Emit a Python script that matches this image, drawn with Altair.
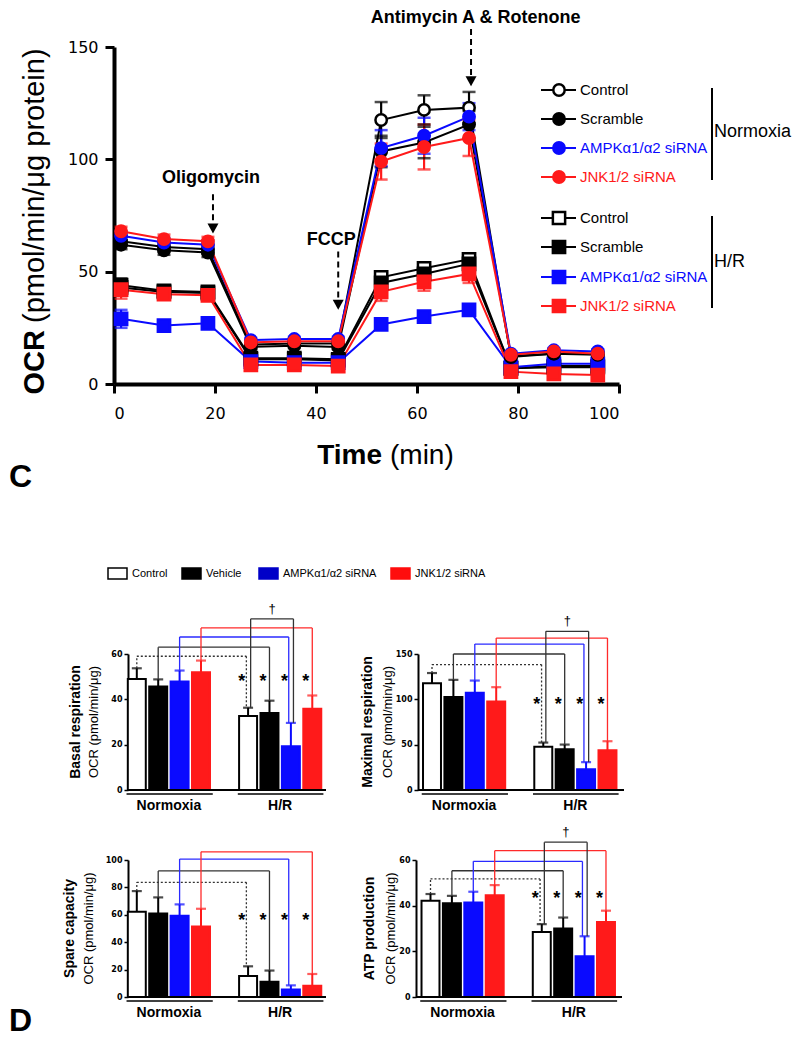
import altair as alt
import pandas as pd

FONT = "Liberation Sans"
NUMFONT = "DejaVu Sans"
BLUE = "#0a0aff"
RED = "#ff1a1a"
BAR_BLUE = "#0000c8"
BAR_RED = "#ff0d0d"
DARK = "#333333"

# ---------------- Panel C : OCR time course ----------------
TIME = [1.4, 9.9, 18.6, 27.1, 35.7, 44.4, 52.9, 61.4, 70.3, 78.6, 87.1, 95.8]

SERIES = ["H/R Control", "H/R Scramble", "H/R AMPK", "H/R JNK",
          "Normoxia Control", "Normoxia Scramble", "Normoxia AMPK", "Normoxia JNK"]
LEG_LABELS = ["Control", "Scramble", "AMPKα1/α2 siRNA", "JNK1/2 siRNA"]

HR_CONTROL = [44.0, 41.5, 41.0, 11.5, 11.5, 11.0, 47.5, 51.5, 55.5, 7.0, 8.0, 8.0]
HR_SCRAMBLE = [43.0, 41.0, 40.5, 11.0, 11.0, 10.5, 45.0, 49.0, 53.5, 7.0, 7.5, 7.5]
HR_AMPK = [29.0, 26.0, 27.0, 10.0, 9.5, 9.5, 26.5, 30.0, 33.0, 7.5, 9.0, 9.0]
HR_JNK = [42.0, 40.0, 39.5, 8.5, 8.5, 8.0, 41.0, 45.5, 49.0, 5.5, 4.5, 4.0]
N_CONTROL = [63.5, 61.0, 60.0, 17.5, 18.0, 18.0, 117.5, 122.0, 123.0, 12.0, 13.5, 13.0]
N_SCRAMBLE = [62.0, 59.5, 58.5, 16.5, 17.0, 16.5, 103.5, 107.5, 115.5, 12.5, 13.5, 13.5]
N_AMPK = [66.0, 63.0, 62.0, 19.5, 20.0, 20.0, 105.0, 110.5, 119.0, 13.5, 15.0, 14.5]
N_JNK = [68.0, 64.5, 63.5, 18.5, 19.0, 19.0, 99.0, 105.5, 109.5, 13.0, 14.5, 13.5]

HR_CONTROL_SEM = [3, 2, 2, 1, 1, 1, 2, 2, 2, 1, 1, 1]
HR_SCRAMBLE_SEM = [3, 2, 2, 1, 1, 1, 3, 3, 3, 1, 1, 1]
HR_AMPK_SEM = [4, 2, 2, 1, 1, 1, 2, 2, 2, 1, 1, 1]
HR_JNK_SEM = [4, 2, 2, 1, 1, 1, 4, 4, 4, 1, 1, 1]
N_CONTROL_SEM = [2, 2, 2, 1, 1, 1, 8, 6.5, 7, 1, 1, 1]
N_SCRAMBLE_SEM = [2, 2, 2, 1, 1, 1, 7, 7, 6, 1, 1, 1]
N_AMPK_SEM = [2, 2, 2, 1, 1, 1, 8, 8, 6, 1, 1, 1]
N_JNK_SEM = [2, 2, 2, 1, 1, 1, 8, 10, 8, 1, 1, 1]

SERIES_VALUES = [HR_CONTROL, HR_SCRAMBLE, HR_AMPK, HR_JNK, N_CONTROL, N_SCRAMBLE, N_AMPK, N_JNK]
SERIES_SEM = [HR_CONTROL_SEM, HR_SCRAMBLE_SEM, HR_AMPK_SEM, HR_JNK_SEM,
              N_CONTROL_SEM, N_SCRAMBLE_SEM, N_AMPK_SEM, N_JNK_SEM]

ARROW_LABELS = ["Oligomycin", "FCCP", "Antimycin A & Rotenone"]
ARROW_T = [19.6, 44.4, 70.7]
ARROW_FROM = [84.5, 59.0, 158.0]
ARROW_TIP = [67.0, 33.0, 132.5]
LABEL_T = [19.2, 43.0, 71.6]
LABEL_V = [91.5, 64.0, 163.0]

# ---------------- Panel D : bar charts ----------------
CONDS = ["Control", "Vehicle", "AMPKα1/α2 siRNA", "JNK1/2 siRNA"]
GROUPS = ["Normoxia", "H/R"]

BASAL_N = [49.0, 45.7, 47.9, 52.0]
BASAL_N_SEM = [4.7, 3.1, 4.8, 5.1]
BASAL_H = [32.6, 34.0, 19.3, 35.9]
BASAL_H_SEM = [3.7, 5.4, 10.3, 5.8]
BASAL_LEVELS = [59.0, 63.0, 67.5, 71.5]
BASAL_DAGGER = [75.5, 80.0]
BASAL_STAR = 50.0

MAX_N = [117.8, 102.5, 107.2, 97.7]
MAX_N_SEM = [11.2, 19.0, 13.5, 15.7]
MAX_H = [47.6, 45.0, 23.0, 43.9]
MAX_H_SEM = [4.7, 5.1, 7.7, 9.9]
MAX_LEVELS = [138.3, 150.0, 161.0, 167.6]
MAX_DAGGER = [175.0, 186.6]
MAX_STAR = 99.5

SPARE_N = [62.2, 61.0, 59.3, 51.5]
SPARE_N_SEM = [15.1, 11.7, 8.3, 12.9]
SPARE_H = [15.4, 11.2, 5.4, 8.3]
SPARE_H_SEM = [7.0, 8.1, 3.1, 8.5]
SPARE_LEVELS = [83.7, 92.0, 100.7, 106.0]
SPARE_DAGGER = []
SPARE_STAR = 59.0

ATP_N = [42.1, 41.1, 41.4, 44.6]
ATP_N_SEM = [3.0, 3.2, 4.7, 4.4]
ATP_H = [28.5, 30.0, 17.9, 32.9]
ATP_H_SEM = [3.4, 4.8, 8.7, 4.9]
ATP_LEVELS = [51.7, 55.3, 59.4, 64.1]
ATP_DAGGER = [67.8, 72.4]
ATP_STAR = 45.0

one = pd.DataFrame({"k": [0]})

line_colors = ["black", "black", BLUE, RED] * 2
fill_colors = ["white", "black", BLUE, RED] * 2

# ============ Panel C chart ============
rows = []
for name, vals, sems in zip(SERIES, SERIES_VALUES, SERIES_SEM):
    for t, v, e in zip(TIME, vals, sems):
        rows.append({"series": name, "t": t, "v": v, "lo": v - e, "hi": v + e})
df_top = pd.DataFrame(rows)

TW, TH = 505, 337
xs_top = alt.Scale(domain=[0, 100], nice=False, zero=False)
ys_top = alt.Scale(domain=[0, 150], nice=False, zero=False)
x_axis_top = alt.Axis(values=[0, 20, 40, 60, 80, 100], title=None, grid=False,
                      labelFont=NUMFONT, labelFontSize=16, labelColor="black",
                      domainColor="black", domainWidth=4, tickColor="black",
                      tickWidth=3, tickSize=9, labelPadding=12)
y_axis_top = alt.Axis(values=[0, 50, 100, 150], title=None, grid=False,
                      labelFont=NUMFONT, labelFontSize=16, labelColor="black",
                      domainColor="black", domainWidth=4, tickColor="black",
                      tickWidth=3, tickSize=9, labelPadding=7)


def tx(f):
    return alt.X(f + ":Q", scale=xs_top, axis=x_axis_top)


def ty(f):
    return alt.Y(f + ":Q", scale=ys_top, axis=y_axis_top)


col_enc = alt.Color("series:N", scale=alt.Scale(domain=SERIES, range=line_colors), legend=None)
fill_enc = alt.Fill("series:N", scale=alt.Scale(domain=SERIES, range=fill_colors), legend=None)
stroke_enc = alt.Stroke("series:N", scale=alt.Scale(domain=SERIES, range=line_colors), legend=None)

base = alt.Chart(df_top)
top_layers = [
    base.mark_line(strokeWidth=2).encode(x=tx("t"), y=ty("v"), color=col_enc),
    base.mark_rule(strokeWidth=2.2).encode(x=tx("t"), y=ty("lo"), y2="hi:Q", color=col_enc),
    base.mark_tick(orient="horizontal", size=13, thickness=2.5).encode(x=tx("t"), y=ty("hi"), color=col_enc),
    base.mark_tick(orient="horizontal", size=13, thickness=2.5).encode(x=tx("t"), y=ty("lo"), color=col_enc),
    base.transform_filter(alt.FieldOneOfPredicate(field="series", oneOf=SERIES[:4]))
        .mark_point(shape="square", size=150, filled=True, strokeWidth=2.5, opacity=1)
        .encode(x=tx("t"), y=ty("v"), fill=fill_enc, stroke=stroke_enc),
    base.transform_filter(alt.FieldOneOfPredicate(field="series", oneOf=SERIES[4:]))
        .mark_point(shape="circle", size=130, filled=True, strokeWidth=2.5, opacity=1)
        .encode(x=tx("t"), y=ty("v"), fill=fill_enc, stroke=stroke_enc),
]

df_arrows = pd.DataFrame({"label": ARROW_LABELS, "t": ARROW_T, "from": ARROW_FROM,
                          "tip": ARROW_TIP, "lt": LABEL_T, "lv": LABEL_V})
arr = alt.Chart(df_arrows)
top_layers += [
    arr.transform_calculate(shaft_end="datum.tip + 3.5")
       .mark_rule(strokeDash=[6, 4], strokeWidth=2, color="black")
       .encode(x=tx("t"), y=ty("from"), y2="shaft_end:Q"),
    arr.mark_point(shape="M-0.55,-1L0.55,-1L0,0Z", size=400, filled=True, color="black", opacity=1)
       .encode(x=tx("t"), y=ty("tip")),
    arr.mark_text(font=FONT, fontSize=18, fontWeight="bold", baseline="middle", color="black")
       .encode(x=tx("lt"), y=ty("lv"), text="label:N"),
]

top_layers += [
    alt.Chart(one).mark_text(text="OCR", angle=270, align="right", baseline="alphabetic",
                             font=FONT, fontSize=29, fontWeight="bold", color="black")
       .encode(x=alt.value(-70), y=alt.value(283)),
    alt.Chart(one).mark_text(text="(pmol/min/μg protein)", angle=270, align="left", baseline="alphabetic",
                             font=FONT, fontSize=29, color="black")
       .encode(x=alt.value(-70), y=alt.value(276)),
    alt.Chart(one).mark_text(text="Time", align="right", baseline="alphabetic",
                             font=FONT, fontSize=28, fontWeight="bold", color="black")
       .encode(x=alt.value(268), y=alt.value(417)),
    alt.Chart(one).mark_text(text="(min)", align="left", baseline="alphabetic",
                             font=FONT, fontSize=28, color="black")
       .encode(x=alt.value(276), y=alt.value(417)),
]

LEG_ORDER = [4, 5, 6, 7, 0, 1, 2, 3]
LEG_Y = [43, 72, 101, 130, 171, 200, 230, 259]
for row, si in enumerate(LEG_ORDER):
    yy = LEG_Y[row]
    c = line_colors[si]
    shp = "circle" if si >= 4 else "square"
    sz = 130 if si >= 4 else 150
    top_layers += [
        alt.Chart(one).mark_rule(color=c, strokeWidth=2)
           .encode(x=alt.value(427), x2=alt.value(462), y=alt.value(yy)),
        alt.Chart(one).mark_point(shape=shp, size=sz, filled=True, fill=fill_colors[si], stroke=c,
                                  strokeWidth=2.5, opacity=1)
           .encode(x=alt.value(445), y=alt.value(yy)),
        alt.Chart(one).mark_text(text=LEG_LABELS[si % 4], align="left", baseline="middle",
                                 font=FONT, fontSize=15, color=c)
           .encode(x=alt.value(466), y=alt.value(yy)),
    ]
for y1, y2, lab, ym in [(41, 133, "Normoxia", 85), (169, 261, "H/R", 215)]:
    top_layers += [
        alt.Chart(one).mark_rule(color="black", strokeWidth=2)
           .encode(x=alt.value(598), y=alt.value(y1), y2=alt.value(y2)),
        alt.Chart(one).mark_text(text=lab, align="left", baseline="middle", font=FONT,
                                 fontSize=18, color="black")
           .encode(x=alt.value(600), y=alt.value(ym)),
    ]

top = alt.layer(*top_layers).properties(width=TW, height=TH)

# ============ spacer with "C" and bar legend ============
BAR_FILLS = ["white", "black", BAR_BLUE, BAR_RED]
BAR_STROKES = ["black", "black", BAR_BLUE, BAR_RED]
LEG_X = [-6, 68, 145, 277]
sp_layers = [
    alt.Chart(one).mark_text(text="C", align="left", baseline="alphabetic", font=FONT,
                             fontSize=32, fontWeight="bold", color="black")
       .encode(x=alt.value(-105), y=alt.value(33)),
]
for lx, c, f, s in zip(LEG_X, CONDS, BAR_FILLS, BAR_STROKES):
    sp_layers += [
        alt.Chart(one).mark_rect(fill=f, stroke=s, strokeWidth=1.5)
           .encode(x=alt.value(lx), x2=alt.value(lx + 19), y=alt.value(114), y2=alt.value(125)),
        alt.Chart(one).mark_text(text=c, align="left", baseline="middle", font=FONT,
                                 fontSize=11, color="black")
           .encode(x=alt.value(lx + 24), y=alt.value(119.5)),
    ]
spacer = alt.layer(*sp_layers).properties(width=212, height=130)

# ============ bar panels ============
STEP = 21.4
H_OFFSET = 5.2
ROW_W = 510


def bar_panel(n, n_sem, h, h_sem, ymax, yticks, levels, dagger, star_y, title,
              axis_px, slot0_px, end_px, height, title_off, add_d=False):
    d0 = -slot0_px / STEP
    d1 = d0 + ROW_W / STEP
    axis_x = d0 + axis_px / STEP
    end_x = d0 + end_px / STEP

    pos_n = [float(i) for i in range(4)]
    pos_h = [i + H_OFFSET for i in range(4)]
    recs = []
    for g, pos, vals, errs in ((GROUPS[0], pos_n, n, n_sem), (GROUPS[1], pos_h, h, h_sem)):
        for c, p, v, e in zip(CONDS, pos, vals, errs):
            recs.append({"group": g, "cond": c, "pos": p, "val": v, "top": v + e})
    df = pd.DataFrame(recs)

    xs = alt.Scale(domain=[d0, d1], nice=False, zero=False)
    ys = alt.Scale(domain=[0, ymax], nice=False, zero=True)
    yax = alt.Axis(values=yticks, title=None, grid=False, orient="left", labelFont=NUMFONT,
                   labelFontSize=8, labelFontWeight="bold", labelColor="black",
                   domainColor="black", domainWidth=2, tickColor="black", tickWidth=1.5,
                   tickSize=4, labelPadding=2, offset=-axis_px)

    def X(f):
        return alt.X(f, scale=xs, axis=None)

    def Y(f):
        return alt.Y(f, scale=ys, axis=yax)

    fill = alt.Fill("cond:N", scale=alt.Scale(domain=CONDS, range=BAR_FILLS), legend=None)
    strk = alt.Stroke("cond:N", scale=alt.Scale(domain=CONDS, range=BAR_STROKES), legend=None)
    ecol = alt.Color("cond:N", scale=alt.Scale(domain=CONDS, range=BAR_STROKES), legend=None)

    b = alt.Chart(df)
    layers = [
        b.transform_calculate(xl="datum.pos - 0.42", xr="datum.pos + 0.42")
         .mark_rect(strokeWidth=2)
         .encode(x=X("xl:Q"), x2="xr:Q", y=Y("val:Q"), y2=alt.Y2(datum=0), fill=fill, stroke=strk),
        b.mark_rule(strokeWidth=2).encode(x=X("pos:Q"), y=Y("val:Q"), y2="top:Q", color=ecol),
        b.mark_tick(orient="horizontal", size=10, thickness=2.2)
         .encode(x=X("pos:Q"), y=Y("top:Q"), color=ecol),
    ]

    layers.append(alt.Chart(one).mark_rule(color="black", strokeWidth=2)
                  .encode(x=alt.X(datum=axis_x, scale=xs, axis=None), x2=alt.X2(datum=end_x),
                          y=alt.Y(datum=0, scale=ys, axis=yax)))

    styles = [("dot", DARK, [2, 2]), ("dark", DARK, None), ("blue", "#2a2aff", None), ("red", "#ff2a2a", None)]
    dxr = [-0.08, 0.0, -0.1, 0.0]
    segs = []
    for i, lev in enumerate(levels):
        xl, yl = pos_n[i], n[i] + n_sem[i]
        xr, yr = pos_h[i] + dxr[i], h[i] + h_sem[i]
        st = styles[i][0]
        segs += [dict(style=st, x=xl, x2=xl, y=yl, y2=lev),
                 dict(style=st, x=xl, x2=xr, y=lev, y2=lev),
                 dict(style=st, x=xr, x2=xr, y=lev, y2=yr)]
    if dagger:
        lev = dagger[0]
        xl, yl = pos_h[0] + 0.12, h[0] + h_sem[0]
        xr, yr = pos_h[2] + 0.12, h[2] + h_sem[2]
        segs += [dict(style="dagger", x=xl, x2=xl, y=yl, y2=lev),
                 dict(style="dagger", x=xl, x2=xr, y=lev, y2=lev),
                 dict(style="dagger", x=xr, x2=xr, y=lev, y2=yr)]
        styles = styles + [("dagger", DARK, None)]
    dfs = pd.DataFrame(segs)
    for st, c, dash in styles:
        sub = dfs[dfs["style"] == st]
        if dash:
            mk = alt.Chart(sub).mark_rule(color=c, strokeWidth=1.3, strokeDash=dash)
        else:
            mk = alt.Chart(sub).mark_rule(color=c, strokeWidth=1.3)
        layers.append(mk.encode(x=X("x:Q"), x2="x2:Q", y=Y("y:Q"), y2="y2:Q"))

    df_star = pd.DataFrame({"x": [p - 0.3 for p in pos_h], "y": [star_y] * 4})
    layers.append(alt.Chart(df_star).mark_text(text="*", font=FONT, fontSize=18, fontWeight="bold",
                                               baseline="alphabetic", dy=10, color="black")
                  .encode(x=X("x:Q"), y=Y("y:Q")))
    if dagger:
        df_dag = pd.DataFrame({"x": [(pos_h[0] + pos_h[2]) / 2 + 0.12], "y": [dagger[1]]})
        layers.append(alt.Chart(df_dag).mark_text(text="†", font=FONT, fontSize=13,
                                                  baseline="alphabetic", dy=4, color="black")
                      .encode(x=X("x:Q"), y=Y("y:Q")))

    df_g = pd.DataFrame({"group": GROUPS,
                         "lo": [pos_n[0] - 0.48, pos_h[0] - 0.48],
                         "hi": [pos_n[3] + 0.55, pos_h[3] + 0.52],
                         "mid": [(pos_n[0] + pos_n[3]) / 2, (pos_h[0] + pos_h[3]) / 2]})
    layers.append(alt.Chart(df_g).mark_rule(color="black", strokeWidth=1.5)
                  .encode(x=X("lo:Q"), x2="hi:Q", y=alt.value(height + 4)))
    layers.append(alt.Chart(df_g).mark_text(font=FONT, fontSize=14, fontWeight="bold",
                                            baseline="alphabetic", color="black")
                  .encode(x=X("mid:Q"), y=alt.value(height + 20), text="group:N"))

    layers.append(alt.Chart(one).mark_text(text=title, angle=270, baseline="middle", font=FONT,
                                           fontSize=14, fontWeight="bold", color="black")
                  .encode(x=alt.value(axis_px + title_off[0]), y=alt.value(height / 2)))
    layers.append(alt.Chart(one).mark_text(text="OCR (pmol/min/μg)", angle=270, baseline="middle",
                                           font=FONT, fontSize=13, color="black")
                  .encode(x=alt.value(axis_px + title_off[1]), y=alt.value(height / 2)))
    if add_d:
        layers.append(alt.Chart(one).mark_text(text="D", align="left", baseline="alphabetic",
                                               font=FONT, fontSize=32, fontWeight="bold", color="black")
                      .encode(x=alt.value(-105), y=alt.value(171)))
    return alt.layer(*layers)


H2, H3 = 136, 137
basal = bar_panel(BASAL_N, BASAL_N_SEM, BASAL_H, BASAL_H_SEM, 60, [0, 20, 40, 60],
                  BASAL_LEVELS, BASAL_DAGGER, BASAL_STAR, "Basal respiration",
                  14, 22.8, 212, H2, (-52, -34))
maximal = bar_panel(MAX_N, MAX_N_SEM, MAX_H, MAX_H_SEM, 150, [0, 50, 100, 150],
                    MAX_LEVELS, MAX_DAGGER, MAX_STAR, "Maximal respiration",
                    304, 318, 510, H2, (-50, -30))
spare = bar_panel(SPARE_N, SPARE_N_SEM, SPARE_H, SPARE_H_SEM, 100, [0, 20, 40, 60, 80, 100],
                  SPARE_LEVELS, SPARE_DAGGER, SPARE_STAR, "Spare capacity",
                  14, 22.8, 212, H3, (-58, -39), add_d=True)
atp = bar_panel(ATP_N, ATP_N_SEM, ATP_H, ATP_H_SEM, 60, [0, 20, 40, 60],
                ATP_LEVELS, ATP_DAGGER, ATP_STAR, "ATP production",
                302, 316.5, 508, H3, (-46, -25))

row2 = alt.layer(basal, maximal).resolve_scale(x="independent", y="independent").properties(width=ROW_W, height=H2)
row3 = alt.layer(spare, atp).resolve_scale(x="independent", y="independent").properties(width=ROW_W, height=H3)

chart = alt.vconcat(top, spacer, row2, row3, spacing=70, bounds="flush",
                    padding=0).configure(font=FONT).configure_view(stroke="transparent")

chart.save("out.html", embed_options={"renderer": "svg", "actions": False})
